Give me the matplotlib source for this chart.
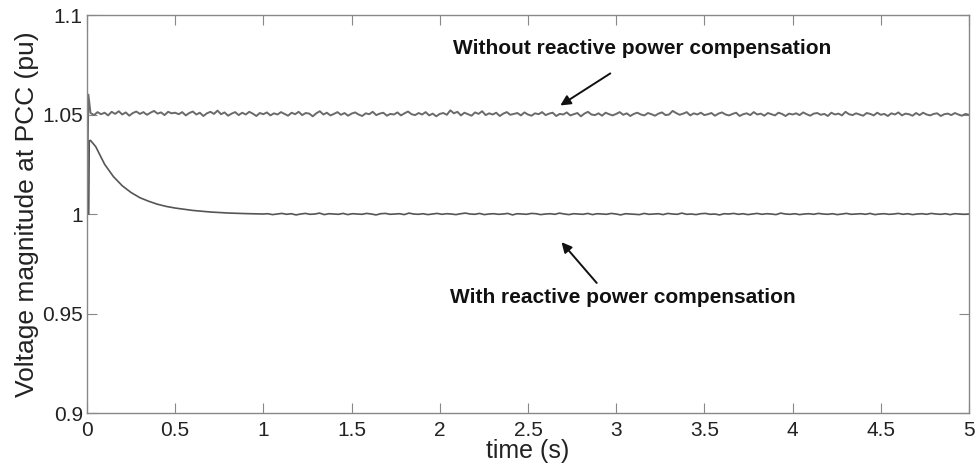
import numpy as np
import matplotlib.pyplot as plt

# without compensation: start, spike, then noisy ~1.05 (deviations in 1.5e-4 pu steps)
without_start_t = [0.0, 0.008]
without_start_v = [1.0, 1.060]
without_dev = [5, -2, 8, 1, 6, -3, 9, 2, 11, 0, 7, -4, 5, 10, 2, 8, -1, 6, 12, 3, 7, -2, 9, 4, 6,
               1, 8, -3, 5, 10, 0, 6, -5, 4, 9, 2, 13, 1, 7, -4, 3, 8, -2, 6, 0, 9, 3, -5, 5, 1,
               7, -3, 4, 0, 8, 2, -4, 6, 1, 9, -2, 5, 3, -6, 4, 11, 0, 6, -3, 2, 8, -1, 5, -4, 3,
               7, 0, -5, 4, 1, 9, -2, 3, 6, -4, 2, 0, 7, -3, 4, 10, 1, -2, 5, 0, 8, -3, 3, -6, 2,
               5, -1, 14, 4, 9, -3, 6, 1, -4, 7, 2, 11, -2, 4, 0, 6, -5, 3, 8, -1, 2, 5, -3, 7, 0,
               -4, 4, 1, 8, -2, 3, 6, -5, 2, 0, 7, -3, 1, 5, -6, 3, 9, 0, -2, 4, -4, 6, 1, -3, 2,
               8, -1, 4, -5, 2, 6, 0, -3, 5, 1, -4, 3, 7, -2, 0, 12, 5, -1, 3, 8, -3, 4, 0, 6, -2,
               1, 5, -4, 3, 7, 0, -3, 2, 6, -5, 1, 4, -2, 8, 0, 3, -4, 5, 1, -3, 6, 2, -5, 3, 0,
               4, -2, 7, 1, -4, 3, 5, -1, 2, -5, 6, 0, 3, -3, 9, 1, -2, 4, 0, -4, 5, 2, -3, 6, -1,
               2, -5, 4, 0, 7, -3, 3, 1, -4, 5, -2, 6, 0, -3, 2, 4, -5, 1, 3, -2, 5, 0, -4, 2, -1]
without_t = np.linspace(0.02, 5.0, len(without_dev))

# with compensation: transient then noisy ~1.0
with_t = [0.0, 0.010, 0.013, 0.02, 0.05, 0.10, 0.15, 0.20, 0.25, 0.30, 0.35,
          0.40, 0.45, 0.50, 0.60, 0.70, 0.80, 0.90, 1.00]
with_v = [1.0, 1.0, 1.0368, 1.0370, 1.0338, 1.0250, 1.0188, 1.0142, 1.0108,
          1.0082, 1.0064, 1.0049, 1.0038, 1.0030, 1.0018, 1.0010, 1.0005,
          1.0002, 1.0000]
with_tail_dev = [1, -2, 0, 2, -1, 1, -3, 0, 2, -1, 0, 3, -2, 1, 0, -1, 2, -2, 1, 0,
                 -1, 2, 0, -3, 1, 2, -1, 0, 1, -2, 3, 0, -1, 1, -2, 0, 2, -1, 1, 0,
                 -2, 1, 3, 0, -1, 2, -2, 0, 1, -1, 0, 2, -3, 1, 0, -1, 2, 1, -2, 0,
                 1, -1, 3, 0, -2, 1, 0, -1, 2, -2, 1, 0, -1, 2, 0, -3, 1, 0, -1, -2,
                 2, -1, 0, 1, -2, 2, 0, -1, 3, -1, 0, -2, 1, 2, -1, 0, -3, 1, 0, 2,
                 -1, 1, -2, 0, 2, -1, 1, 0, -2, 3, 0, -1, 1, -2, 0, 1, -1, 2, 0, -1,
                 1, -2, 0, 2, -1, 0, 1, -1, 2, -2, 0, 1, -1, 0, 2, -1, 1, -2, 0, 1,
                 -1, 2, 0, -1, 1, -2, 1, 0, -1, 0]
with_tail_t = np.linspace(1.025, 5.0, len(with_tail_dev))

xticks = [0, 0.5, 1, 1.5, 2, 2.5, 3, 3.5, 4, 4.5, 5]
xticklabels = ['0', '0.5', '1', '1.5', '2', '2.5', '3', '3.5', '4', '4.5', '5']
yticks = [0.9, 0.95, 1.0, 1.05, 1.1]
yticklabels = ['0.9', '0.95', '1', '1.05', '1.1']

plt.rcParams['font.family'] = ['Liberation Sans', 'DejaVu Sans']

fig = plt.figure(figsize=(9.76, 4.66), dpi=100)
ax = fig.add_axes([0.0891, 0.1137, 0.9037, 0.8541])

tw = np.concatenate([without_start_t, without_t])
vw = np.concatenate([without_start_v, 1.05 + np.array(without_dev) * 1.5e-4])
ax.plot(tw, vw, color='#6a6a6a', linewidth=1.4)

tc = np.concatenate([with_t, with_tail_t])
vc = np.concatenate([with_v, 1.0 + np.array(with_tail_dev) * 1.5e-4])
ax.plot(tc, vc, color='#555555', linewidth=1.2)

ax.set_xlim(0, 5)
ax.set_ylim(0.9, 1.1)
ax.set_xticks(xticks)
ax.set_xticklabels(xticklabels)
ax.set_yticks(yticks)
ax.set_yticklabels(yticklabels)
ax.tick_params(direction='in', length=7, width=0.8, color='#888888',
               labelsize=15, labelcolor='#222222', top=True, right=True, pad=3)
ax.tick_params(axis='x', pad=6)
for s in ax.spines.values():
    s.set_color('#888888')
    s.set_linewidth(1.0)

ax.set_xlabel('time (s)', fontsize=18, color='#222222', labelpad=-1)
ax.set_ylabel('Voltage magnitude at PCC (pu)', fontsize=19, color='#222222', labelpad=2)

ax.annotate('', xy=(2.67, 1.0538), xytext=(2.98, 1.0714),
            arrowprops=dict(arrowstyle='-|>', color='#111111', lw=1.4,
                            mutation_scale=15))
ax.text(3.146, 1.0834, 'Without reactive power compensation', ha='center', va='center',
        fontsize=15, fontweight='bold', color='#111111')

ax.annotate('', xy=(2.68, 0.9869), xytext=(2.90, 0.9643),
            arrowprops=dict(arrowstyle='-|>', color='#111111', lw=1.4,
                            mutation_scale=15))
ax.text(3.04, 0.9578, 'With reactive power compensation', ha='center', va='center',
        fontsize=15, fontweight='bold', color='#111111')

fig.savefig('out.png', dpi=100)
